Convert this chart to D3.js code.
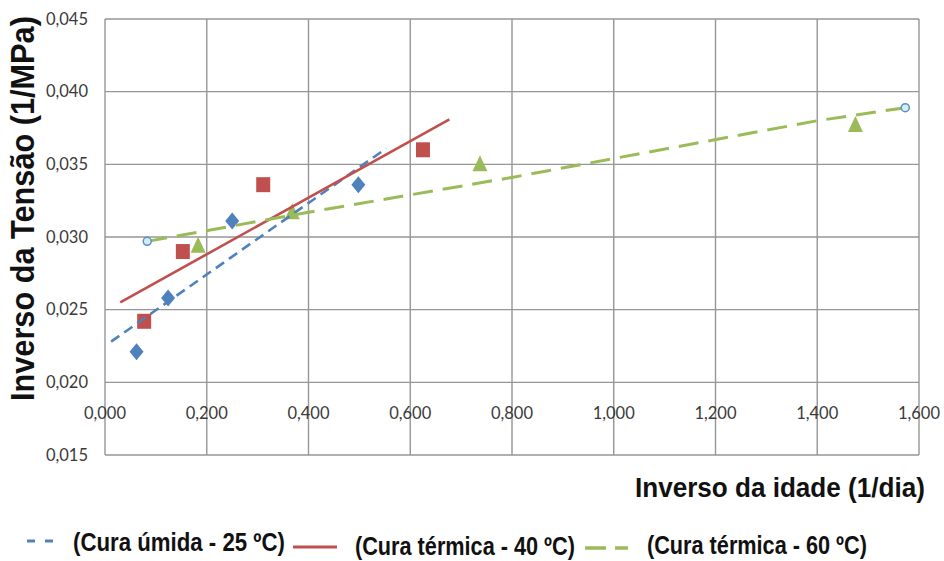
<!DOCTYPE html>
<html>
<head>
<meta charset="utf-8">
<script src="https://cdn.jsdelivr.net/npm/d3@7/dist/d3.min.js"></script>
<style>
  html, body { margin: 0; padding: 0; background: #fff; }
  svg { display: block; }
</style>
</head>
<body>
<svg id="chart" width="944" height="561"></svg>
<script>
// ---------- data ----------
const xTicks = [0, 0.2, 0.4, 0.6, 0.8, 1.0, 1.2, 1.4, 1.6];
const yTicks = [0.015, 0.020, 0.025, 0.030, 0.035, 0.040, 0.045];

const umidaX = [0.062, 0.124, 0.250, 0.498];
const umidaY = [0.0221, 0.0258, 0.0311, 0.0336];
const umidaTrend = [[0.012, 0.0228], [0.553, 0.0361]];

const t40X = [0.077, 0.153, 0.311, 0.625];
const t40Y = [0.0242, 0.0290, 0.0336, 0.0360];
const t40Trend = [[0.030, 0.0255], [0.677, 0.0381]];

const t60X = [0.183, 0.368, 0.737, 1.475];
const t60Y = [0.0294, 0.0317, 0.0350, 0.0377];
const t60Trend = [[0.083, 0.0297], [0.400, 0.0317], [0.800, 0.0341], [1.400, 0.0380], [1.573, 0.0389]];

const legendLabels = ["(Cura úmida - 25 ºC)", "(Cura térmica - 40 ºC)", "(Cura térmica - 60 ºC)"];
const yTitle = "Inverso da Tensão (1/MPa)";
const xTitle = "Inverso da idade (1/dia)";

// ---------- setup ----------
const svg = d3.select("#chart");
const x = d3.scaleLinear().domain([0, 1.6]).range([105, 919]);
const y = d3.scaleLinear().domain([0.015, 0.045]).range([455, 19]);
const loc = d3.formatLocale({decimal: ",", thousands: ".", grouping: [3], currency: ["", ""]});
const fmt = loc.format(".3f");

const BLUE = "#4F81BD", RED = "#C0504D", GREEN = "#9BBB59";
const GRID = "#969696";
const BOLD = "'Liberation Sans', Arial, sans-serif";

// helper: text squeezed horizontally to a target width
function squeezed(parent, str, size, width, tx, ty, rot) {
  const g = parent.append("g").attr("transform", `translate(${tx},${ty})` + (rot ? ` rotate(${rot})` : ""));
  const t = g.append("text")
    .attr("font-family", BOLD).attr("font-weight", "bold").attr("font-size", size)
    .attr("fill", "#111").text(str);
  const w = t.node().getComputedTextLength();
  t.attr("transform", `scale(${width / w},1)`);
  return t;
}

// gridlines
svg.append("g").selectAll("line").data(xTicks).join("line")
  .attr("x1", d => x(d)).attr("x2", d => x(d))
  .attr("y1", y(0.045)).attr("y2", y(0.015))
  .attr("stroke", GRID).attr("stroke-width", 1.4);
svg.append("g").selectAll("line").data(yTicks).join("line")
  .attr("x1", x(0)).attr("x2", x(1.6))
  .attr("y1", d => y(d)).attr("y2", d => y(d))
  .attr("stroke", GRID).attr("stroke-width", 1.4);

// tick labels
svg.append("g").selectAll("text").data(yTicks).join("text")
  .attr("x", 88).attr("y", d => y(d)).attr("dy", "0.35em")
  .attr("text-anchor", "end")
  .attr("font-family", "Lato, 'Open Sans', sans-serif").attr("font-size", 16.5)
  .attr("fill", "#3a3a3a")
  .text(d => fmt(d));
svg.append("g").selectAll("text").data(xTicks).join("text")
  .attr("x", d => x(d)).attr("y", 419)
  .attr("text-anchor", "middle")
  .attr("font-family", "Lato, 'Open Sans', sans-serif").attr("font-size", 16.5)
  .attr("fill", "#3a3a3a")
  .text(d => fmt(d));

// axis titles (y title: bottom-to-top, starting at y=401)
squeezed(svg, yTitle, 33, 385, 34, 401, -90);
squeezed(svg, xTitle, 28, 290, 635, 497, 0);

// marker shapes
const diamond = (cx, cy) => `M${cx},${cy-8.5}L${cx+7},${cy}L${cx},${cy+8.5}L${cx-7},${cy}Z`;
const square = (cx, cy) => `M${cx-7},${cy-7.5}h14v15h-14Z`;
const triangle = (cx, cy) => `M${cx},${cy-9}L${cx+7.5},${cy+7}L${cx-7.5},${cy+7}Z`;

function markers(xs, ys, shape, color) {
  svg.append("g").selectAll("path").data(xs.map((v, i) => [v, ys[i]])).join("path")
    .attr("d", d => shape(x(d[0]), y(d[1])))
    .attr("fill", color);
}
markers(umidaX, umidaY, diamond, BLUE);
markers(t40X, t40Y, square, RED);
markers(t60X, t60Y, triangle, GREEN);

// trend lines
const line = d3.line().x(d => x(d[0])).y(d => y(d[1]));
svg.append("path").datum(umidaTrend).attr("d", line)
  .attr("fill", "none").attr("stroke", BLUE).attr("stroke-width", 2.6)
  .attr("stroke-dasharray", "10,6");
svg.append("path").datum(t40Trend).attr("d", line)
  .attr("fill", "none").attr("stroke", RED).attr("stroke-width", 2.6);
svg.append("path").datum(t60Trend).attr("d", line)
  .attr("fill", "none").attr("stroke", GREEN).attr("stroke-width", 3)
  .attr("stroke-dasharray", "20,10");

// endpoint circles of 60 ºC trend
svg.append("g").selectAll("circle").data([t60Trend[0], t60Trend[t60Trend.length - 1]]).join("circle")
  .attr("cx", d => x(d[0])).attr("cy", d => y(d[1])).attr("r", 4)
  .attr("fill", "#d4ecf7").attr("stroke", "#5B8FC7").attr("stroke-width", 1.5);

// legend
const lg = svg.append("g");
lg.append("line").attr("x1", 27).attr("x2", 53).attr("y1", 541).attr("y2", 541)
  .attr("stroke", BLUE).attr("stroke-width", 3).attr("stroke-dasharray", "8,10");
lg.append("line").attr("x1", 293).attr("x2", 337).attr("y1", 547).attr("y2", 547)
  .attr("stroke", RED).attr("stroke-width", 3);
lg.append("line").attr("x1", 585).attr("x2", 628).attr("y1", 548).attr("y2", 548)
  .attr("stroke", GREEN).attr("stroke-width", 3.5).attr("stroke-dasharray", "21,9");

const legPos = [[73, 551, 212], [355, 555, 220], [647, 554, 220]];
legendLabels.forEach((s, i) => squeezed(lg, s, 25, legPos[i][2], legPos[i][0], legPos[i][1], 0));
</script>
</body>
</html>
